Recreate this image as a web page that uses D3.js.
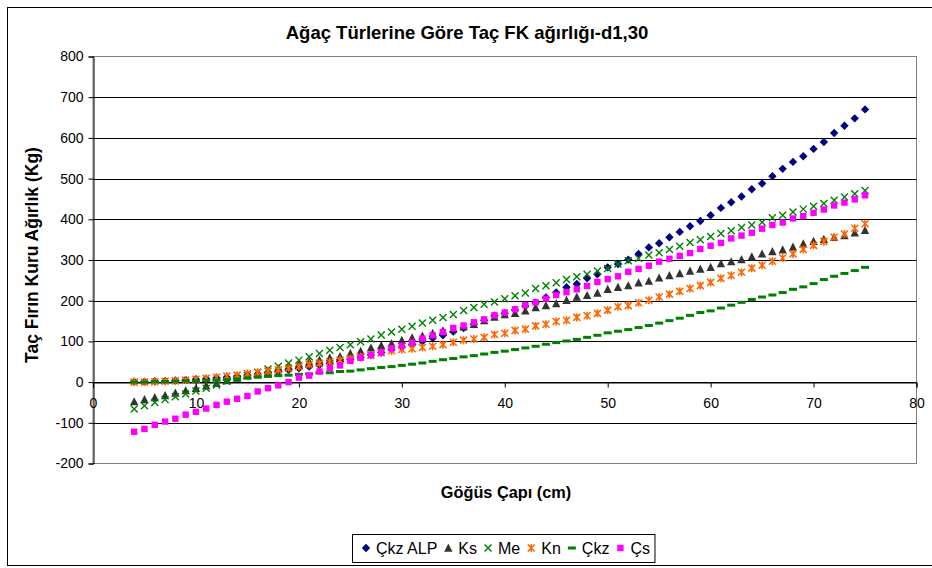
<!DOCTYPE html>
<html>
<head>
<meta charset="utf-8">
<script src="https://cdn.jsdelivr.net/npm/d3@7"></script>
<style>
    body { margin: 0; background: #fff; }
    svg { display: block; font-family: "Liberation Sans", Arial, sans-serif; }
</style>
</head>
<body>
<svg id="chart" width="932" height="568"></svg>
<script>
const chartTitle = "Ağaç Türlerine Göre Taç FK ağırlığı-d1,30"
const xTitle = "Göğüs Çapı (cm)"
const yTitle = "Taç Fırın Kuru Ağırlık (Kg)"

const xTicks = [0, 10, 20, 30, 40, 50, 60, 70, 80]
const yTicks = [-200, -100, 0, 100, 200, 300, 400, 500, 600, 700, 800]

// göğüs çapı, 4..75 cm
const diameters = [4, 5, 6, 7, 8, 9, 10, 11, 12, 13, 14, 15, 16, 17, 18, 19, 20, 21, 22, 23,
    24, 25, 26, 27, 28, 29, 30, 31, 32, 33, 34, 35, 36, 37, 38, 39, 40, 41, 42, 43,
    44, 45, 46, 47, 48, 49, 50, 51, 52, 53, 54, 55, 56, 57, 58, 59, 60, 61, 62, 63,
    64, 65, 66, 67, 68, 69, 70, 71, 72, 73, 74, 75]

const ckzAlpValues = [1, 1, 2, 3, 4, 5, 7, 8, 10, 12, 14, 17, 20, 23, 26, 30, 34, 38, 42, 46,
    51, 56, 61, 67, 73, 80, 86, 93, 100, 108, 115, 124, 133, 142, 152, 163, 169, 177, 187, 195,
    208, 220, 233, 241, 255, 265, 282, 290, 301, 315, 331, 341, 356, 369, 383, 396, 410, 428, 442, 456,
    474, 488, 506, 524, 541, 555, 573, 590, 612, 630, 648, 670]

const ksValues = [-48, -43, -38, -33, -27, -21, -15, -9, -3, 4, 10, 16, 22, 28, 33, 39, 45, 50, 54, 60,
    63, 70, 76, 84, 90, 95, 103, 109, 113, 120, 126, 131, 136, 142, 151, 160, 166, 169, 175, 183,
    188, 193, 201, 209, 213, 219, 228, 233, 237, 244, 248, 256, 262, 267, 273, 278, 282, 291, 296, 301,
    308, 315, 321, 325, 332, 340, 346, 351, 356, 360, 367, 373]

const meValues = [-66, -58, -50, -43, -36, -29, -22, -15, -7, 2, 9, 17, 24, 32, 39, 47, 54, 62, 70, 78,
    85, 92, 99, 106, 116, 123, 130, 137, 145, 152, 159, 166, 176, 183, 191, 197, 205, 212, 219, 230,
    237, 244, 252, 259, 265, 273, 279, 290, 298, 304, 312, 318, 326, 334, 343, 350, 358, 365, 372, 380,
    386, 393, 404, 410, 418, 425, 432, 439, 447, 455, 463, 471]

const knValues = [0, 0, 1, 2, 3, 5, 7, 9, 12, 15, 17, 21, 24, 27, 30, 34, 38, 43, 46, 50,
    54, 58, 62, 66, 72, 77, 80, 82, 85, 88, 92, 98, 103, 106, 110, 117, 120, 127, 130, 138,
    142, 149, 152, 159, 163, 169, 177, 185, 188, 195, 201, 209, 216, 223, 230, 237, 245, 255, 262, 270,
    280, 287, 297, 305, 315, 326, 336, 345, 356, 364, 378, 389]

const ckzValues = [0, 0, 1, 1, 2, 3, 3, 4, 5, 6, 8, 10, 12, 14, 16, 17, 19, 20, 23, 23,
    26, 27, 30, 33, 36, 38, 41, 44, 47, 51, 55, 58, 62, 65, 69, 73, 76, 80, 84, 88,
    93, 97, 101, 105, 110, 115, 121, 125, 129, 134, 139, 145, 151, 157, 164, 171, 175, 182, 189, 196,
    203, 209, 214, 220, 228, 234, 242, 252, 260, 267, 274, 282]

const csValues = [-122, -115, -105, -97, -90, -80, -73, -65, -56, -48, -41, -34, -23, -15, -8, 0, 11, 16, 26, 34,
    41, 52, 60, 66, 73, 83, 89, 97, 107, 115, 123, 133, 139, 147, 154, 164, 171, 179, 189, 196,
    205, 214, 221, 228, 236, 246, 253, 260, 271, 278, 286, 296, 303, 310, 317, 327, 335, 342, 353, 360,
    367, 377, 386, 392, 402, 408, 416, 424, 434, 441, 449, 459]

const seriesList = [
    { name: "Çkz ALP", values: ckzAlpValues, colour: "#000080", shape: "diamond" },
    { name: "Ks", values: ksValues, colour: "#333333", shape: "triangle" },
    { name: "Me", values: meValues, colour: "#008000", shape: "cross" },
    { name: "Kn", values: knValues, colour: "#ff6600", shape: "star" },
    { name: "Çkz", values: ckzValues, colour: "#008000", shape: "dash" },
    { name: "Çs", values: csValues, colour: "#ff00ff", shape: "square" },
]

const svg = d3.select("#chart")
const plot = { left: 93, top: 56.5, right: 916.5, bottom: 463.5 }

const x = d3.scaleLinear().domain([0, 80]).range([plot.left, plot.right])
const y = d3.scaleLinear().domain([-200, 800]).range([plot.bottom, plot.top])

// outer chart frame
svg.append("rect")
    .attr("x", 7.5).attr("y", 7.5)
    .attr("width", 940).attr("height", 558)
    .attr("fill", "#fff").attr("stroke", "#000").attr("stroke-width", 1)

// plot area + gridlines
svg.append("rect")
    .attr("x", plot.left).attr("y", plot.top)
    .attr("width", plot.right - plot.left).attr("height", plot.bottom - plot.top)
    .attr("fill", "#fff").attr("stroke", "#808080").attr("stroke-width", 1)

svg.append("g")
    .selectAll("line")
    .data(yTicks.filter((t) => t !== -200 && t !== 800))
    .join("line")
    .attr("x1", plot.left).attr("x2", plot.right)
    .attr("y1", (d) => Math.round(y(d)) + 0.5).attr("y2", (d) => Math.round(y(d)) + 0.5)
    .attr("stroke", "#000").attr("stroke-width", 1)

// axes
const yAxis = svg.append("g")
    .attr("transform", `translate(${plot.left + 0.5}, 0)`)
    .call(d3.axisLeft(y).tickValues(yTicks).tickSize(5).tickPadding(5).tickFormat((d) => d))
const xAxis = svg.append("g")
    .attr("transform", `translate(0, ${Math.round(y(0)) + 0.5})`)
    .call(d3.axisBottom(x).tickValues(xTicks).tickSize(5).tickPadding(11).tickFormat((d) => d))

for (const axis of [xAxis, yAxis]) {
    axis.select(".domain").attr("stroke", "#000")
    axis.selectAll(".tick line").attr("stroke", "#000")
    axis.selectAll(".tick text")
        .attr("fill", "#000")
        .style("font-size", "14px")
        .style("font-family", '"Liberation Sans", Arial, sans-serif')
}

// titles
svg.append("text")
    .attr("x", 467).attr("y", 38.5)
    .attr("text-anchor", "middle")
    .style("font-size", "18.5px").style("font-weight", "bold")
    .text(chartTitle)

svg.append("text")
    .attr("x", 506).attr("y", 498)
    .attr("text-anchor", "middle")
    .style("font-size", "16.3px").style("font-weight", "bold")
    .text(xTitle)

svg.append("text")
    .attr("transform", `translate(38, ${(plot.top + plot.bottom) / 2 - 5}) rotate(-90)`)
    .attr("text-anchor", "middle")
    .style("font-size", "17.5px").style("font-weight", "bold")
    .text(yTitle)

// marker shapes
function drawMarker(g, shape, colour) {
    if (shape === "diamond") {
        g.append("path").attr("d", "M0,-4.2L4.2,0L0,4.2L-4.2,0Z").attr("fill", colour)
    } else if (shape === "triangle") {
        g.append("path").attr("d", "M0,-4.5L4.2,3.7L-4.2,3.7Z").attr("fill", colour)
    } else if (shape === "cross") {
        g.append("path").attr("d", "M-3.5,-3.5L3.5,3.5M-3.5,3.5L3.5,-3.5")
            .attr("stroke", colour).attr("stroke-width", 1.4).attr("fill", "none")
    } else if (shape === "star") {
        g.append("path").attr("d", "M-3.5,-3.5L3.5,3.5M-3.5,3.5L3.5,-3.5M0,-4L0,4")
            .attr("stroke", colour).attr("stroke-width", 1.6).attr("fill", "none")
    } else if (shape === "dash") {
        g.append("rect").attr("x", -4).attr("y", -1.5).attr("width", 8).attr("height", 3).attr("fill", colour)
    } else if (shape === "square") {
        g.append("rect").attr("x", -3.2).attr("y", -3.2).attr("width", 6.4).attr("height", 6.4).attr("fill", colour)
    }
}

const points = svg.append("g")
for (const s of seriesList) {
    const group = points.append("g")
    s.values.forEach((v, i) => {
        const m = group.append("g").attr("transform", `translate(${x(diameters[i])}, ${y(v)})`)
        drawMarker(m, s.shape, s.colour)
    })
}

// legend
const legend = svg.append("g")
const legendBox = legend.append("rect")
    .attr("x", 352.5).attr("y", 534.5).attr("height", 28)
    .attr("fill", "#fff").attr("stroke", "#000")
let cursor = 366
for (const s of seriesList) {
    const m = legend.append("g").attr("transform", `translate(${cursor}, 548)`)
    drawMarker(m, s.shape, s.colour)
    const label = legend.append("text")
        .attr("x", cursor + 10).attr("y", 554)
        .style("font-size", "16px")
        .text(s.name)
    cursor += 10 + label.node().getComputedTextLength() + 11
}
legendBox.attr("width", cursor - 352.5 - 6)
</script>
</body>
</html>
